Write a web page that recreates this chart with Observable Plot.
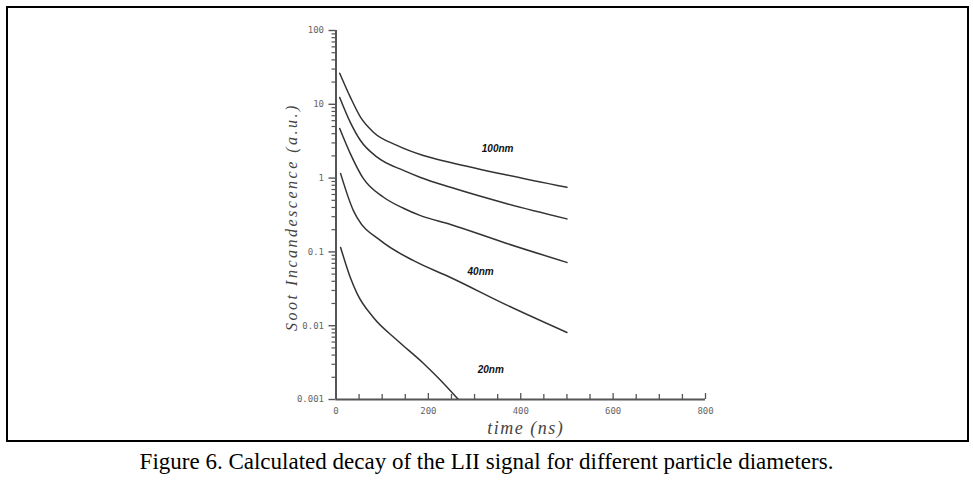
<!DOCTYPE html>
<html>
<head>
<meta charset="utf-8">
<script src="https://cdn.jsdelivr.net/npm/d3@7"></script>
<script src="https://cdn.jsdelivr.net/npm/@observablehq/plot@0.6"></script>
<style>
  html, body { margin: 0; padding: 0; background: #fff; }
  #fig { position: relative; width: 973px; height: 482px; overflow: hidden; }
  #box { position: absolute; left: 6px; top: 6px; width: 963px; height: 436px; border: 2px solid #000; box-sizing: border-box; }
  #chart { position: absolute; left: 0; top: 0; }
  #caption { position: absolute; left: 0; width: 973px; top: 449px; text-align: center;
    font-family: "Liberation Serif", "Times New Roman", serif; font-size: 23px; line-height: 26px; color: #000; }
</style>
</head>
<body>
<div id="fig">
  <div id="box"></div>
  <div id="chart"></div>
  <div id="caption">Figure 6. Calculated decay of the LII signal for different particle diameters.</div>
</div>
<script>
// time (ns) and signal (a.u.)
const t100 = [8, 31, 53, 81, 132, 189, 248, 370, 500];
const v100 = [26.4, 12.5, 6.7, 4.19, 2.77, 2.02, 1.63, 1.1, 0.75];

const t2 = [8, 31, 53, 89, 146, 183, 248, 370, 500];
const v2 = [12.4, 5.7, 3.23, 1.92, 1.27, 1.02, 0.75, 0.45, 0.28];

const t3 = [8, 31, 59, 103, 146, 183, 248, 370, 500];
const v3 = [4.7, 2.15, 0.99, 0.55, 0.39, 0.31, 0.235, 0.13, 0.072];

const t40 = [10, 38, 46, 96, 168, 248, 370, 500];
const v40 = [1.15, 0.36, 0.29, 0.143, 0.076, 0.045, 0.019, 0.0081];

const t20 = [10, 31, 46, 81, 133, 189, 220, 265];
const v20 = [0.115, 0.045, 0.027, 0.0129, 0.0063, 0.0031, 0.002, 0.001];

const labelText = ["100nm", "40nm", "20nm"];
const labelT = [350, 313, 335];
const labelV = [2.5, 0.054, 0.0025];

const yTicks = [100, 10, 1, 0.1, 0.01, 0.001];
const yTickLabels = ["100", "10", "1", "0.1", "0.01", "0.001"];
const xTicks = [0, 200, 400, 600, 800];
const xMinor = [50, 100, 150, 250, 300, 350, 450, 500, 550, 650, 700, 750];

const series = [
  ["100nm", t100, v100], ["s2", t2, v2], ["s3", t3, v3], ["40nm", t40, v40], ["20nm", t20, v20]
];
const rows = series.flatMap(([name, ts, vs]) => ts.map((t, i) => ({name, t, v: vs[i]})));

const yMinor = [];
for (let e = -3; e < 2; e++) for (let k = 2; k <= 9; k++) yMinor.push(k * Math.pow(10, e));

const labels = labelText.map((s, i) => ({s, t: labelT[i], v: labelV[i]}));
const yLab = yTicks.map((v, i) => ({v, s: yTickLabels[i]}));
const tickFont = "DejaVu Sans Mono, monospace";
const axisColor = "#555";

const chart = Plot.plot({
  width: 973,
  height: 444,
  marginLeft: 335.5,
  marginRight: 268,
  marginTop: 30,
  marginBottom: 45,
  style: {background: "transparent"},
  x: {domain: [0, 800]},
  y: {type: "log", domain: [0.001, 100]},
  marks: [
    Plot.axisY(yMinor, {tickSize: 4, tickFormat: () => "", stroke: axisColor, strokeWidth: 1.2, label: null}),
    Plot.axisY(yTicks, {tickSize: 7, tickFormat: () => "", stroke: axisColor, strokeWidth: 1.4, label: null}),
    Plot.text(yLab, {y: "v", text: "s", frameAnchor: "left", dx: -12, textAnchor: "end", fontFamily: tickFont, fontSize: 9, fill: "#666"}),
    Plot.axisX(xMinor, {tickSize: -5, tickFormat: () => "", stroke: axisColor, strokeWidth: 1.3, label: null}),
    Plot.axisX(xTicks, {tickSize: -6, tickFormat: () => "", stroke: axisColor, strokeWidth: 1.3, label: null}),
    Plot.axisX(xTicks, {tickSize: 0, tickPadding: 8, fontFamily: tickFont, fontSize: 9, fill: "#666", label: null}),
    Plot.ruleX([0], {stroke: axisColor, strokeWidth: 2}),
    Plot.ruleY([0.001], {stroke: axisColor, strokeWidth: 2}),
    Plot.line(rows, {x: "t", y: "v", z: "name", stroke: "#333", strokeWidth: 1.5, curve: "monotone-x", clip: true}),
    Plot.text(labels, {x: "t", y: "v", text: "s", fontFamily: "Liberation Sans, Arial, sans-serif", fontWeight: "bold", fontStyle: "italic", fontSize: 10, fill: "#111"}),
    Plot.text(["Soot Incandescence (a.u.)"], {frameAnchor: "left", textAnchor: "middle", dx: -44, dy: 2, rotate: -90, fontFamily: "Liberation Serif, serif", fontStyle: "italic", fontSize: 16, fill: "#444"}),
    Plot.text(["time (ns)"], {frameAnchor: "bottom", textAnchor: "middle", dx: 5, dy: 34, fontFamily: "Liberation Serif, serif", fontStyle: "italic", fontSize: 18, fill: "#444"})
  ]
});
chart.querySelectorAll("text").forEach(el => {
  if (el.textContent === "Soot Incandescence (a.u.)") el.style.letterSpacing = "2.5px";
  if (el.textContent === "time (ns)") el.style.letterSpacing = "1.5px";
});
document.getElementById("chart").appendChild(chart);
</script>
</body>
</html>
